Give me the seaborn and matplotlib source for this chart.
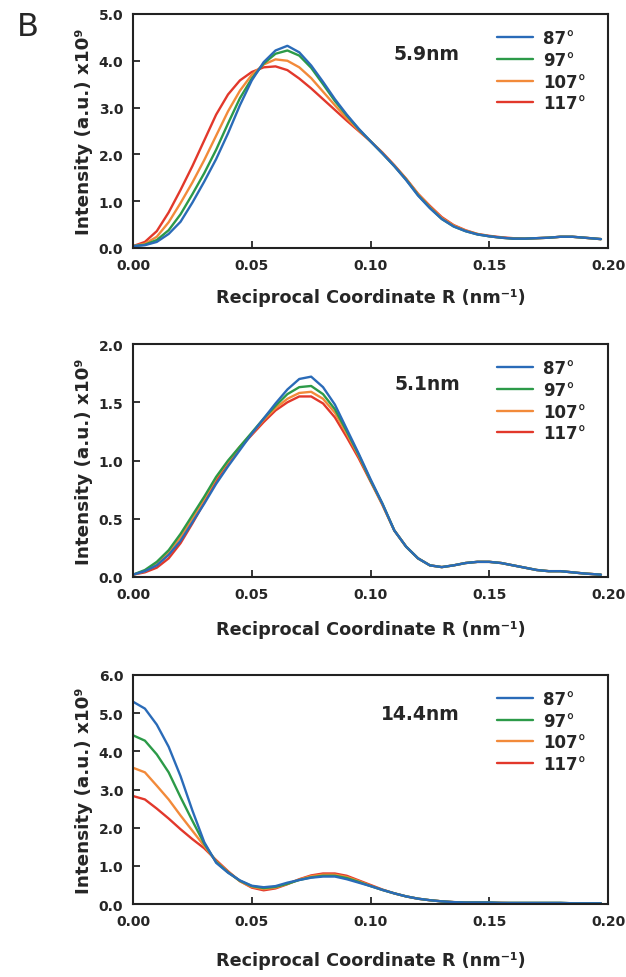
import numpy as np
import pandas as pd
import matplotlib
matplotlib.use("Agg")
import matplotlib.pyplot as plt
from matplotlib.ticker import FormatStrFormatter
import seaborn as sns

# reciprocal coordinate grid (nm^-1)
R = [0.000, 0.005, 0.010, 0.015, 0.020, 0.025, 0.030, 0.035, 0.040, 0.045,
     0.050, 0.055, 0.060, 0.065, 0.070, 0.075, 0.080, 0.085, 0.090, 0.095,
     0.100, 0.105, 0.110, 0.115, 0.120, 0.125, 0.130, 0.135, 0.140, 0.145,
     0.150, 0.155, 0.160, 0.165, 0.170, 0.175, 0.180, 0.185, 0.190, 0.197]

angles = ["87°", "97°", "107°", "117°"]
colors = ["#2a6bb8", "#2c9a48", "#f28a3a", "#e2382b"]

# panel 1 : 5.9nm
p1_87 = [0.04, 0.06, 0.13, 0.30, 0.56, 0.97, 1.42, 1.90, 2.45, 3.05,
         3.58, 3.97, 4.22, 4.32, 4.18, 3.90, 3.55, 3.18, 2.85, 2.55,
         2.28, 2.02, 1.75, 1.45, 1.12, 0.85, 0.62, 0.46, 0.36, 0.29,
         0.25, 0.22, 0.20, 0.20, 0.21, 0.22, 0.24, 0.24, 0.22, 0.19]
p1_97 = [0.04, 0.07, 0.17, 0.38, 0.72, 1.15, 1.60, 2.10, 2.66, 3.20,
         3.62, 3.94, 4.15, 4.22, 4.11, 3.85, 3.50, 3.14, 2.83, 2.54,
         2.28, 2.02, 1.75, 1.46, 1.13, 0.86, 0.62, 0.46, 0.36, 0.29,
         0.25, 0.22, 0.20, 0.20, 0.21, 0.22, 0.24, 0.24, 0.22, 0.19]
p1_107 = [0.04, 0.09, 0.24, 0.55, 0.96, 1.40, 1.88, 2.40, 2.92, 3.36,
          3.70, 3.92, 4.03, 4.00, 3.86, 3.63, 3.34, 3.05, 2.77, 2.52,
          2.28, 2.03, 1.76, 1.47, 1.15, 0.88, 0.64, 0.48, 0.37, 0.30,
          0.25, 0.22, 0.20, 0.20, 0.21, 0.22, 0.24, 0.24, 0.22, 0.19]
p1_117 = [0.04, 0.13, 0.36, 0.76, 1.24, 1.75, 2.30, 2.85, 3.28, 3.58,
          3.76, 3.86, 3.88, 3.80, 3.62, 3.41, 3.18, 2.95, 2.72, 2.50,
          2.28, 2.04, 1.77, 1.48, 1.16, 0.90, 0.66, 0.49, 0.38, 0.30,
          0.26, 0.23, 0.21, 0.20, 0.21, 0.22, 0.24, 0.24, 0.22, 0.19]

# panel 2 : 5.1nm
p2_87 = [0.02, 0.05, 0.10, 0.19, 0.31, 0.47, 0.63, 0.80, 0.95, 1.09,
         1.23, 1.36, 1.49, 1.61, 1.70, 1.72, 1.63, 1.48, 1.27, 1.06,
         0.84, 0.63, 0.40, 0.26, 0.16, 0.10, 0.085, 0.10, 0.12, 0.13,
         0.13, 0.12, 0.10, 0.08, 0.06, 0.05, 0.05, 0.04, 0.03, 0.02]
p2_97 = [0.02, 0.06, 0.13, 0.23, 0.37, 0.53, 0.69, 0.86, 1.00, 1.12,
         1.24, 1.36, 1.47, 1.57, 1.63, 1.64, 1.57, 1.44, 1.25, 1.05,
         0.83, 0.63, 0.40, 0.26, 0.16, 0.10, 0.085, 0.10, 0.12, 0.13,
         0.13, 0.12, 0.10, 0.08, 0.06, 0.05, 0.05, 0.04, 0.03, 0.02]
p2_107 = [0.02, 0.05, 0.11, 0.21, 0.34, 0.50, 0.67, 0.85, 0.99, 1.12,
          1.23, 1.35, 1.45, 1.53, 1.58, 1.59, 1.53, 1.41, 1.23, 1.04,
          0.83, 0.62, 0.40, 0.26, 0.16, 0.10, 0.085, 0.10, 0.12, 0.13,
          0.13, 0.12, 0.10, 0.08, 0.06, 0.05, 0.05, 0.04, 0.03, 0.02]
p2_117 = [0.02, 0.04, 0.08, 0.16, 0.29, 0.46, 0.64, 0.83, 0.98, 1.11,
          1.22, 1.33, 1.43, 1.50, 1.55, 1.55, 1.49, 1.37, 1.20, 1.02,
          0.82, 0.62, 0.40, 0.26, 0.16, 0.10, 0.085, 0.10, 0.12, 0.13,
          0.13, 0.12, 0.10, 0.08, 0.06, 0.05, 0.05, 0.04, 0.03, 0.02]

# panel 3 : 14.4nm
p3_87 = [5.30, 5.12, 4.70, 4.12, 3.35, 2.45, 1.62, 1.08, 0.82, 0.62,
         0.48, 0.44, 0.47, 0.56, 0.63, 0.69, 0.72, 0.72, 0.65, 0.56,
         0.47, 0.37, 0.28, 0.20, 0.14, 0.10, 0.07, 0.05, 0.04, 0.04,
         0.04, 0.03, 0.03, 0.03, 0.03, 0.03, 0.03, 0.02, 0.02, 0.02]
p3_97 = [4.42, 4.28, 3.92, 3.45, 2.80, 2.18, 1.58, 1.10, 0.83, 0.61,
         0.47, 0.42, 0.45, 0.53, 0.63, 0.70, 0.74, 0.74, 0.68, 0.58,
         0.47, 0.37, 0.28, 0.20, 0.14, 0.10, 0.07, 0.05, 0.04, 0.04,
         0.04, 0.03, 0.03, 0.03, 0.03, 0.03, 0.03, 0.02, 0.02, 0.02]
p3_107 = [3.57, 3.45, 3.10, 2.74, 2.32, 1.92, 1.52, 1.12, 0.84, 0.60,
          0.45, 0.39, 0.43, 0.53, 0.64, 0.73, 0.77, 0.77, 0.71, 0.60,
          0.48, 0.37, 0.28, 0.20, 0.14, 0.10, 0.07, 0.05, 0.04, 0.04,
          0.04, 0.03, 0.03, 0.03, 0.03, 0.03, 0.03, 0.02, 0.02, 0.02]
p3_117 = [2.83, 2.74, 2.50, 2.24, 1.96, 1.70, 1.46, 1.15, 0.86, 0.60,
          0.43, 0.36, 0.41, 0.52, 0.65, 0.75, 0.80, 0.80, 0.74, 0.62,
          0.50, 0.38, 0.28, 0.20, 0.14, 0.10, 0.07, 0.05, 0.04, 0.04,
          0.03, 0.03, 0.02, 0.02, 0.02, 0.02, 0.02, 0.02, 0.02, 0.02]

panels = [
    ("5.9nm", [p1_87, p1_97, p1_107, p1_117], 5.0, 1.0, 12),
    ("5.1nm", [p2_87, p2_97, p2_107, p2_117], 2.0, 0.5, 14),
    ("14.4nm", [p3_87, p3_97, p3_107, p3_117], 6.0, 1.0, 17),
]

sns.set_style("ticks")
plt.rcParams["font.family"] = ["DejaVu Sans"]
plt.rcParams["font.weight"] = "bold"

fig = plt.figure(figsize=(6.26, 9.78), dpi=100)
boxes = [[0.2125, 0.7454, 0.7588, 0.2393],
         [0.2125, 0.4090, 0.7588, 0.2382],
         [0.2125, 0.0746, 0.7588, 0.2342]]

palette = dict(zip(angles, colors))

for box, (size_lbl, series, ymax, ystep, xpad) in zip(boxes, panels):
    ax = fig.add_axes(box)
    rows = []
    for ang, vals in zip(angles, series):
        for r, v in zip(R, vals):
            rows.append({"R": r, "I": v, "angle": ang})
    df = pd.DataFrame(rows)
    # blue drawn last, like the original
    sns.lineplot(data=df, x="R", y="I", hue="angle", hue_order=angles[::-1],
                 palette=palette, linewidth=1.7, estimator=None, sort=False, ax=ax)
    for ln in ax.get_lines():
        ln.set_solid_joinstyle("round")
    ax.set_xlim(0, 0.20)
    ax.set_ylim(0, ymax)
    ax.set_xticks([0.0, 0.05, 0.10, 0.15, 0.20])
    ax.set_yticks(np.arange(0, ymax + ystep / 2, ystep))
    ax.xaxis.set_major_formatter(FormatStrFormatter("%.2f"))
    ax.yaxis.set_major_formatter(FormatStrFormatter("%.1f"))
    ax.tick_params(direction="in", length=5, width=1.3, labelsize=10, pad=7)
    for sp in ax.spines.values():
        sp.set_linewidth(1.5)
        sp.set_color("#222222")
    ax.set_xlabel("Reciprocal Coordinate R (nm⁻¹)", fontsize=12.7, fontweight="bold", labelpad=xpad)
    ax.set_ylabel("Intensity (a.u.) x10⁹", fontsize=13.2, fontweight="bold", labelpad=4)

    ax.text(0.688, 0.83, size_lbl, transform=ax.transAxes, ha="right", va="center",
            fontsize=13.5, fontweight="bold")

    handles, labels = ax.get_legend_handles_labels()
    order = [labels.index(a) for a in angles]
    ax.legend([handles[i] for i in order], [labels[i] for i in order],
              loc="upper left", bbox_to_anchor=(0.766, 0.935), frameon=False,
              borderpad=0, borderaxespad=0, handlelength=2.15, handletextpad=0.6,
              labelspacing=0.22, prop={"size": 12, "weight": "bold"})

fig.text(0.045, 0.972, "B", fontsize=23, fontweight="normal", ha="center", va="center")

fig.savefig("out.png", dpi=100)
